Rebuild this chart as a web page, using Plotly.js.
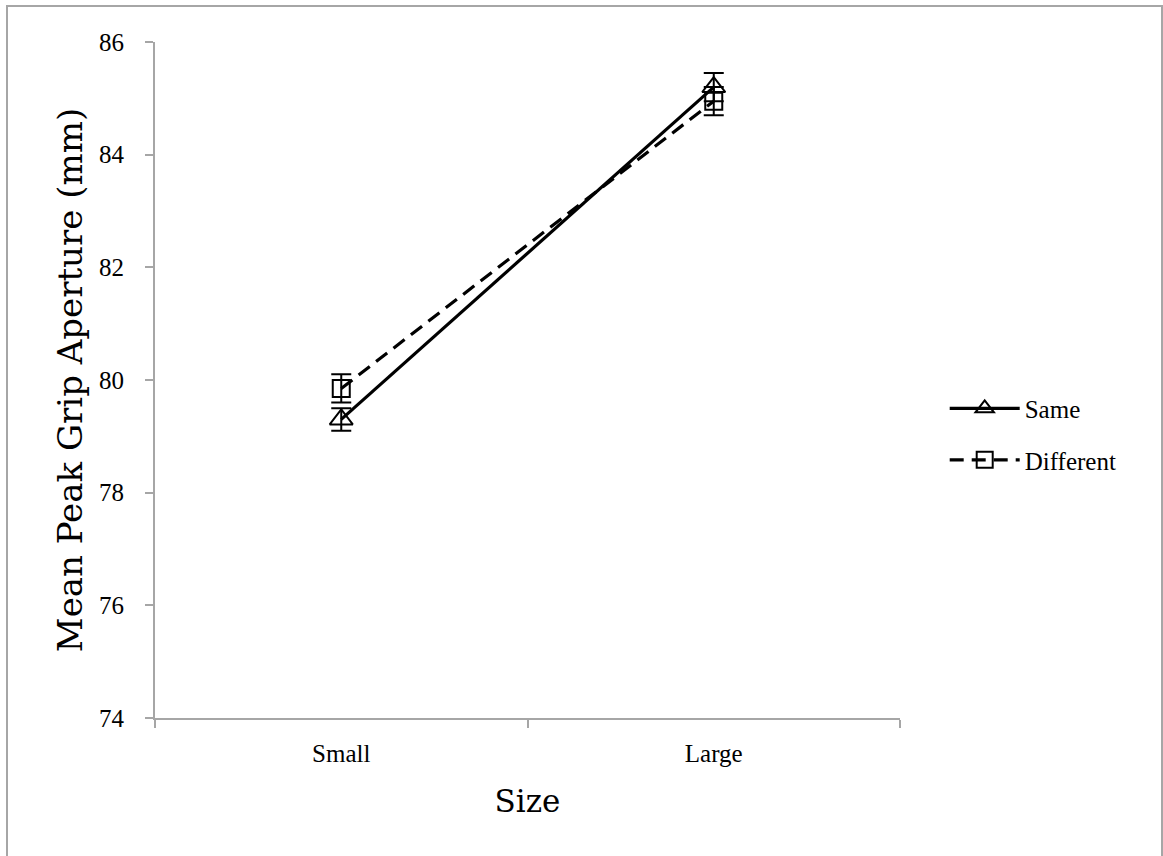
<!DOCTYPE html>
<html>
<head>
<meta charset="utf-8">
<script src="https://cdn.plot.ly/plotly-3.0.1.min.js"></script>
<style>html,body{margin:0;padding:0;background:#fff;}#chart{width:1163px;height:856px;}</style>
</head>
<body>
<div id="chart"></div>
<script>
const categories = ["Small", "Large"];
const sameValues = [79.3, 85.2];
const sameErrors = [0.2, 0.25];
const differentValues = [79.85, 84.95];
const differentErrors = [0.25, 0.25];
const yTicks = [74, 76, 78, 80, 82, 84, 86];

const FONT = "Liberation Serif, DejaVu Serif, serif";
const TFONT = "DejaVu Serif, Liberation Serif, serif";

const traces = [
  {
    x: categories, y: sameValues, name: "Same", type: "scatter", mode: "lines+markers",
    legendgroup: "a",
    line: {color: "#000", width: 3.2},
    marker: {symbol: "triangle-up-open", size: 20, color: "#000", line: {color: "#000", width: 2}},
    error_y: {type: "data", array: sameErrors, visible: true, color: "#000", thickness: 2, width: 10}
  },
  {
    x: categories, y: differentValues, name: "Different", type: "scatter", mode: "lines+markers",
    legendgroup: "b",
    line: {color: "#000", width: 3.2, dash: "14px,8px"},
    marker: {symbol: "square-open", size: 17, color: "#000", line: {color: "#000", width: 2}},
    error_y: {type: "data", array: differentErrors, visible: true, color: "#000", thickness: 2, width: 10}
  }
];

const layout = {
  width: 1163, height: 856,
  margin: {l: 155, r: 263, t: 42, b: 138},
  paper_bgcolor: "#fff", plot_bgcolor: "#fff",
  font: {family: FONT, color: "#000", size: 25},
  showlegend: true,
  legend: {
    x: 1.06, y: 0.42, xanchor: "left", yanchor: "middle",
    font: {family: FONT, size: 25, color: "#000"},
    itemwidth: 70,
    traceorder: "grouped", tracegroupgap: 16, bgcolor: "rgba(0,0,0,0)"
  },
  xaxis: {
    type: "category", range: [-0.5, 1.5],
    tickson: "boundaries", ticks: "outside", ticklen: 8, tickwidth: 2, tickcolor: "#a6a6a6",
    showline: true, linecolor: "#a6a6a6", linewidth: 2,
    showgrid: false, zeroline: false,
    ticklabelstandoff: 12,
    tickfont: {family: FONT, size: 25, color: "#000"},
    title: {text: "Size", font: {family: TFONT, size: 31, color: "#000"}, standoff: 24}
  },
  yaxis: {
    range: [74, 86], tickvals: yTicks, ticktext: yTicks.map(String),
    ticks: "outside", ticklen: 8, tickwidth: 2, tickcolor: "#a6a6a6",
    showline: true, linecolor: "#a6a6a6", linewidth: 2,
    showgrid: false, zeroline: false,
    ticklabelstandoff: 16,
    tickfont: {family: FONT, size: 25, color: "#000"},
    title: {text: "Mean Peak Grip Aperture (mm)", font: {family: TFONT, size: 34, color: "#000"}, standoff: 6}
  },
  shapes: [
    {type: "rect", xref: "paper", yref: "paper",
     x0: (7 - 155) / 745, x1: (1162 - 155) / 745,
     y0: (718 - 870) / 676, y1: (718 - 6) / 676,
     line: {color: "#a6a6a6", width: 2}, fillcolor: "rgba(0,0,0,0)", layer: "below"}
  ]
};

Plotly.newPlot("chart", traces, layout, {displayModeBar: false, staticPlot: true});
</script>
</body>
</html>
